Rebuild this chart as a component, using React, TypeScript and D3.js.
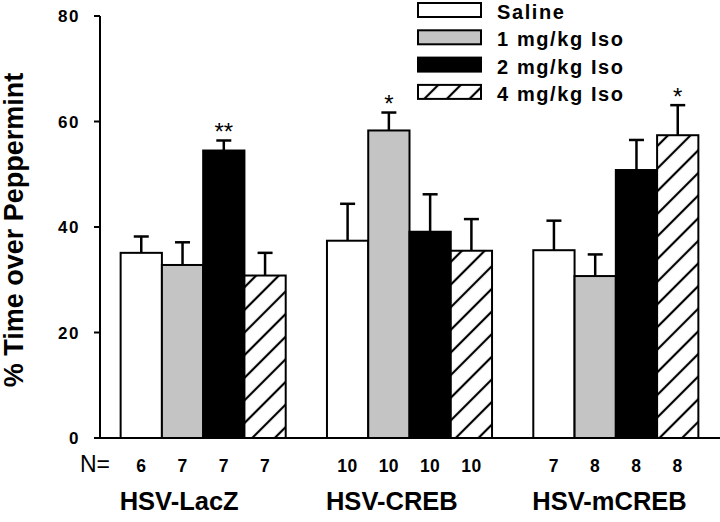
import React from "react";
import * as d3 from "d3";

const groups = ["HSV-LacZ", "HSV-CREB", "HSV-mCREB"];
const seriesNames = ["Saline", "1 mg/kg Iso", "2 mg/kg Iso", "4 mg/kg Iso"];

const salineMeans = [35.1, 37.4, 35.6];
const salineSEM = [3.1, 7.0, 5.6];
const iso1Means = [32.8, 58.3, 30.7];
const iso1SEM = [4.3, 3.4, 4.1];
const iso2Means = [54.5, 39.1, 50.8];
const iso2SEM = [1.9, 7.1, 5.7];
const iso4Means = [30.8, 35.5, 57.4];
const iso4SEM = [4.3, 6.0, 5.7];

const salineN = [6, 10, 7];
const iso1N = [7, 10, 8];
const iso2N = [7, 10, 8];
const iso4N = [7, 10, 8];

const salineStars = ["", "", ""];
const iso1Stars = ["", "*", ""];
const iso2Stars = ["**", "", ""];
const iso4Stars = ["", "", "*"];

const yTicks = [0, 20, 40, 60, 80];

const means = [salineMeans, iso1Means, iso2Means, iso4Means];
const sems = [salineSEM, iso1SEM, iso2SEM, iso4SEM];
const ns = [salineN, iso1N, iso2N, iso4N];
const stars = [salineStars, iso1Stars, iso2Stars, iso4Stars];

const fills = ["#ffffff", "#c4c4c4", "#000000", "url(#hatch)"];

const W = 720;
const H = 522;
const FONT = "'Liberation Sans', Arial, Helvetica, sans-serif";

export default function App() {
  const x0 = d3.scaleBand<string>().domain(groups).range([100, 719]).paddingInner(0.2).paddingOuter(0.1);
  const x1 = d3.scaleBand<string>().domain(seriesNames).range([0, x0.bandwidth()]);
  const y = d3.scaleLinear().domain([0, 80]).range([438, 16]);

  const bars: any[] = [];
  groups.forEach((g, gi) => {
    seriesNames.forEach((s, si) => {
      bars.push({
        g, s, gi, si,
        v: means[si][gi],
        e: sems[si][gi],
        n: ns[si][gi],
        star: stars[si][gi],
        x: (x0(g) as number) + (x1(s) as number),
      });
    });
  });
  const bw = x1.bandwidth();

  return (
    <div style={{ position: "absolute", left: 0, top: 0 }}>
      <svg width={W} height={H} style={{ display: "block", background: "#fff" }}>
        <defs>
          <pattern id="hatch" patternUnits="userSpaceOnUse" width={16} height={16} patternTransform="rotate(45)">
            <rect width={16} height={16} fill="#fff" />
            <line x1={8} y1={0} x2={8} y2={16} stroke="#000" strokeWidth={2.2} />
          </pattern>
        </defs>

        {/* error bars */}
        {bars.map((b, i) => (
          <g key={"e" + i} stroke="#000" strokeWidth={2.5}>
            <line x1={b.x + bw / 2} x2={b.x + bw / 2} y1={y(b.v)} y2={y(b.v + b.e)} />
            <line x1={b.x + bw / 2 - 7.5} x2={b.x + bw / 2 + 7.5} y1={y(b.v + b.e)} y2={y(b.v + b.e)} />
          </g>
        ))}

        {/* bars */}
        {bars.map((b, i) => (
          <rect key={"b" + i} x={b.x} y={y(b.v)} width={bw} height={y(0) - y(b.v)}
            fill={fills[b.si]} stroke="#000" strokeWidth={2} />
        ))}

        {/* stars */}
        {bars.filter((b) => b.star).map((b, i) => (
          <text key={"s" + i} x={b.x + bw / 2} y={y(b.v + b.e) - 0.5} textAnchor="middle"
            fontFamily={FONT} fontSize={24} fill="#000">{b.star}</text>
        ))}

        {/* axes */}
        <line x1={100} x2={100} y1={y(80)} y2={y(0)} stroke="#000" strokeWidth={2} />
        <line x1={99} x2={720} y1={y(0)} y2={y(0)} stroke="#000" strokeWidth={2} />
        {yTicks.map((t) => (
          <g key={"t" + t}>
            <line x1={94} x2={100} y1={y(t)} y2={y(t)} stroke="#000" strokeWidth={2} />
            <text x={80} y={y(t) + 6} textAnchor="end" fontFamily={FONT} fontWeight="bold"
              fontSize={17} letterSpacing={1.5} fill="#000">{t}</text>
          </g>
        ))}

        {/* y title */}
        <text transform={`translate(23,${(16 + 438) / 2 + 3}) rotate(-90)`} textAnchor="middle"
          fontFamily={FONT} fontWeight="bold" fontSize={27} fill="#000">% Time over Peppermint</text>

        {/* N row */}
        <text x={80} y={472} fontFamily={FONT} fontSize={23} fill="#000">N=</text>
        {bars.map((b, i) => (
          <text key={"n" + i} x={b.x + bw / 2} y={472} textAnchor="middle" fontFamily={FONT}
            fontWeight="bold" fontSize={17.5} letterSpacing={0.5} fill="#000">{b.n}</text>
        ))}

        {/* group labels */}
        {groups.map((g) => (
          <text key={g} x={(x0(g) as number) - 1} y={510} fontFamily={FONT} fontWeight="bold"
            fontSize={25.5} fill="#000">{g}</text>
        ))}

        {/* legend */}
        {seriesNames.map((s, i) => (
          <g key={"l" + s} transform={`translate(0,${i * 27.3})`}>
            <rect x={418} y={3} width={63} height={14} fill={fills[i]} stroke="#000" strokeWidth={2} />
            <text x={497} y={19} fontFamily={FONT} fontWeight="bold" fontSize={20}
              letterSpacing={1.6} fill="#000">{s}</text>
          </g>
        ))}
      </svg>
    </div>
  );
}
